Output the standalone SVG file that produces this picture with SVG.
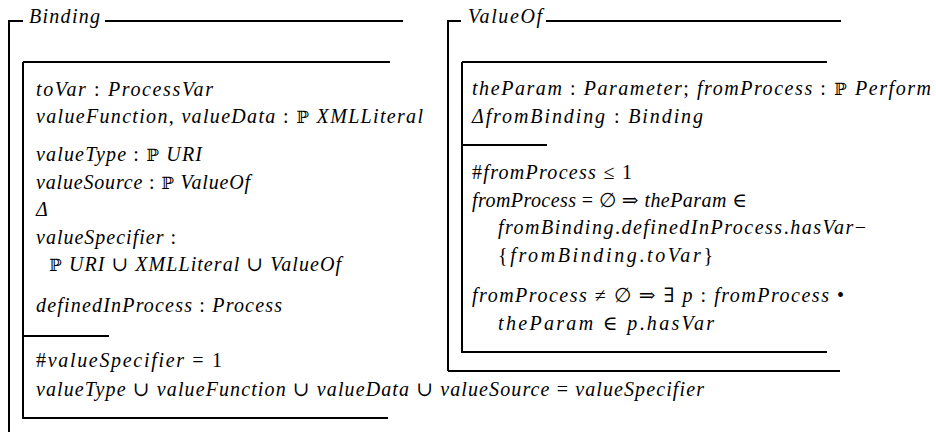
<svg xmlns="http://www.w3.org/2000/svg" width="936" height="432" viewBox="0 0 936 432">
<style>
.f{fill:none;stroke:#000;stroke-width:2}
text{font-family:"Liberation Serif","DejaVu Serif",serif;font-style:italic;font-size:20px;fill:#000}
.r{font-style:normal}
.bb{font-family:"DejaVu Serif","DejaVu Sans",serif;font-style:normal;font-size:17px}
</style>
<rect width="936" height="432" fill="#fff"/>
<g id="binding">
<path class="f" d="M9,432 V21 H23 M105,21 H403"/>
<path class="f" d="M23,62 H390 M23,62 V418 H388 M23,336 H109"/>
<text x="29" y="23" textLength="71">Binding</text>
<text x="36" y="96" textLength="177">toVar <tspan class="r">:</tspan> ProcessVar</text>
<text x="36" y="123" textLength="387">valueFunction<tspan class="r">,</tspan> valueData <tspan class="r">:</tspan> <tspan class="bb">ℙ</tspan> XMLLiteral</text>
<text x="36" y="161" textLength="166">valueType <tspan class="r">:</tspan> <tspan class="bb">ℙ</tspan> URI</text>
<text x="36" y="189" textLength="214">valueSource <tspan class="r">:</tspan> <tspan class="bb">ℙ</tspan> ValueOf</text>
<text x="36" y="216">Δ</text>
<text x="36" y="244" textLength="140">valueSpecifier <tspan class="r">:</tspan></text>
<text x="49" y="271" textLength="292"><tspan class="bb">ℙ</tspan> URI <tspan class="r">∪</tspan> XMLLiteral <tspan class="r">∪</tspan> ValueOf</text>
<text x="36" y="312" textLength="246">definedInProcess <tspan class="r">:</tspan> Process</text>
<text x="36" y="367" textLength="186"><tspan class="r">#</tspan>valueSpecifier <tspan class="r">= 1</tspan></text>
<text x="36" y="396" textLength="668">valueType <tspan class="r">∪</tspan> valueFunction <tspan class="r">∪</tspan> valueData <tspan class="r">∪</tspan> valueSource <tspan class="r">=</tspan> valueSpecifier</text>
</g>
<g id="valueof">
<path class="f" d="M448,371 V21 H461 M546,21 H841 M448,371 H840"/>
<path class="f" d="M462,62 H827 M462,62 V352 H827 M462,145 H547"/>
<text x="468" y="23" textLength="74">ValueOf</text>
<text x="472" y="95" textLength="459">theParam <tspan class="r">:</tspan> Parameter<tspan class="r">;</tspan> fromProcess <tspan class="r">:</tspan> <tspan class="bb">ℙ</tspan> Perform</text>
<text x="472" y="123" textLength="231">ΔfromBinding <tspan class="r">:</tspan> Binding</text>
<text x="472" y="179" textLength="160"><tspan class="r">#</tspan>fromProcess <tspan class="r">≤ 1</tspan></text>
<text x="472" y="207" textLength="275">fromProcess <tspan class="r">= ∅ ⇒</tspan> theParam <tspan class="r">∈</tspan></text>
<text x="498" y="234" textLength="368">fromBinding<tspan class="r">.</tspan>definedInProcess<tspan class="r">.</tspan>hasVar<tspan class="r">−</tspan></text>
<text x="498" y="262" textLength="215"><tspan class="r">{</tspan>fromBinding<tspan class="r">.</tspan>toVar<tspan class="r">}</tspan></text>
<text x="472" y="302" textLength="372">fromProcess <tspan class="r">≠ ∅ ⇒ ∃</tspan> p <tspan class="r">:</tspan> fromProcess <tspan class="r">•</tspan></text>
<text x="498" y="330" textLength="216">theParam <tspan class="r">∈</tspan> p<tspan class="r">.</tspan>hasVar</text>
</g>
</svg>
